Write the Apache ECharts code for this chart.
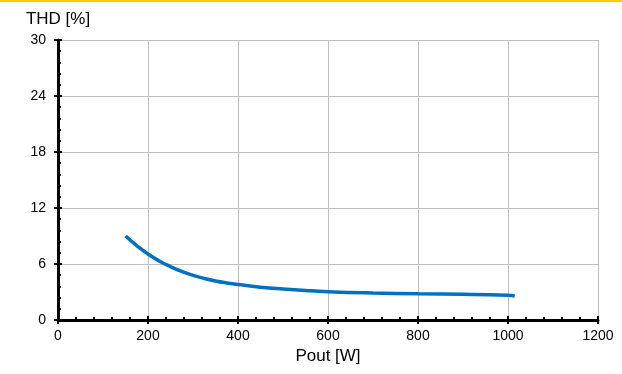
<!DOCTYPE html>
<html lang="en">
<head>
    <meta charset="UTF-8">
    <title>THD vs Pout</title>
    <script src="https://cdn.jsdelivr.net/npm/echarts@6/dist/echarts.min.js"></script>
    <style>
        html, body { margin: 0; padding: 0; background: #fff; }
        #fig1 { width: 622px; height: 374px; }
    </style>
</head>
<body>
    <div id="fig1"></div>
    <script>
        // 读图得到的数据点
        let pout = [150, 175, 200, 225, 250, 275, 300, 325, 350, 375, 400, 450, 500, 550, 600, 700, 800, 900, 1000, 1015];
        let thd = [9.0, 7.98, 7.07, 6.33, 5.72, 5.2, 4.78, 4.45, 4.18, 3.97, 3.8, 3.52, 3.32, 3.16, 3.04, 2.9, 2.81, 2.75, 2.64, 2.58];
        let xTicks = [0, 200, 400, 600, 800, 1000, 1200];
        let yTicks = [0, 6, 12, 18, 24, 30];

        let font = 'Liberation Sans, Arial, sans-serif';
        let fig1 = echarts.init(document.getElementById('fig1'), null, {renderer: 'canvas'});

        // 主刻度两侧都有，用第二条坐标轴画外侧部分
        let option = {
            animation: false,
            grid: { left: 58, right: 24, top: 40, bottom: 54 },
            graphic: [{
                type: 'rect',
                shape: { x: 0, y: 0, width: 622, height: 2 },
                style: { fill: '#FFCC00' }
            }],
            xAxis: [{
                type: 'value',
                min: xTicks[0],
                max: xTicks[xTicks.length - 1],
                interval: 200,
                name: 'Pout [W]',
                nameLocation: 'center',
                nameGap: 27,
                nameTextStyle: { color: '#000', fontSize: 17, fontFamily: font },
                axisLine: { lineStyle: { color: '#000', width: 3 } },
                axisTick: { inside: true, length: 4, lineStyle: { color: '#000', width: 2 } },
                minorTick: { show: true, splitNumber: 5, length: 3, lineStyle: { color: '#000', width: 2 } },
                axisLabel: { color: '#000', fontSize: 14, fontFamily: font, margin: 9, formatter: (v) => String(v) },
                splitLine: { show: true, lineStyle: { color: '#bfbfbf', width: 1 } }
            }, {
                type: 'value',
                position: 'bottom',
                min: xTicks[0],
                max: xTicks[xTicks.length - 1],
                interval: 200,
                axisLine: { show: false },
                axisTick: { inside: false, length: 4, lineStyle: { color: '#000', width: 2 } },
                axisLabel: { show: false },
                splitLine: { show: false }
            }],
            yAxis: [{
                type: 'value',
                min: yTicks[0],
                max: yTicks[yTicks.length - 1],
                interval: 6,
                name: 'THD [%]',
                nameLocation: 'end',
                nameGap: 12,
                nameTextStyle: { color: '#000', fontSize: 17, fontFamily: font },
                axisLine: { show: true, lineStyle: { color: '#000', width: 3 } },
                axisTick: { show: true, inside: true, length: 4, lineStyle: { color: '#000', width: 2 } },
                minorTick: { show: true, splitNumber: 5, length: 3, lineStyle: { color: '#000', width: 2 } },
                axisLabel: { color: '#000', fontSize: 14, fontFamily: font, margin: 12 },
                splitLine: { show: true, lineStyle: { color: '#bfbfbf', width: 1 } }
            }, {
                type: 'value',
                position: 'left',
                min: yTicks[0],
                max: yTicks[yTicks.length - 1],
                interval: 6,
                axisLine: { show: false },
                axisTick: { show: true, inside: false, length: 4, lineStyle: { color: '#000', width: 2 } },
                axisLabel: { show: false },
                splitLine: { show: false }
            }],
            series: [{
                type: 'line',
                smooth: 0.5,
                showSymbol: false,
                lineStyle: { color: '#0070C0', width: 3.5 },
                data: pout.map((x, i) => [x, thd[i]])
            }]
        };
        fig1.setOption(option);
    </script>
</body>
</html>
